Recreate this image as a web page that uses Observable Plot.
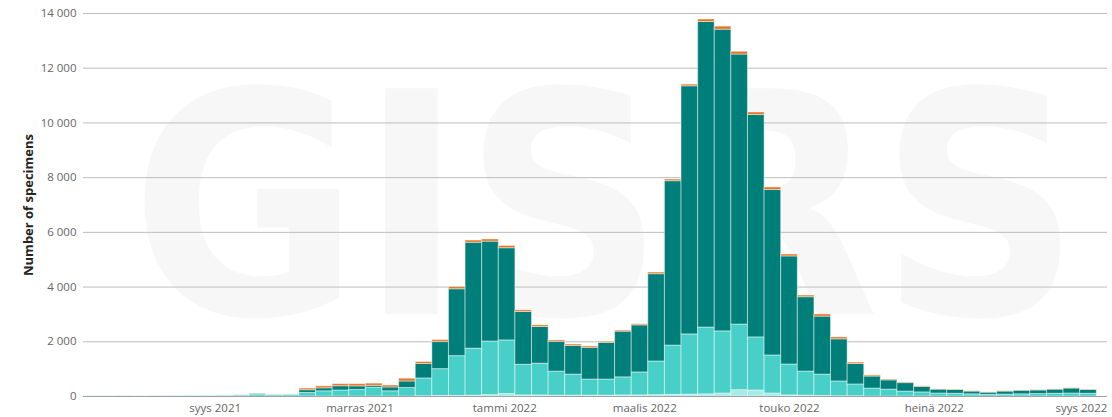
<!DOCTYPE html>
<html>
<head>
<meta charset="utf-8">
<script src="https://cdn.jsdelivr.net/npm/d3@7"></script>
<script src="https://cdn.jsdelivr.net/npm/@observablehq/plot@0.6"></script>
<style>
  html, body { margin: 0; padding: 0; background: #ffffff; }
  #chart svg { display: block; }
</style>
</head>
<body>
<div id="chart"></div>
<script>
// Week-ending dates (Sundays), one bar per week
const weekEnding = [
  "2021-07-11","2021-07-18","2021-07-25","2021-08-01","2021-08-08","2021-08-15","2021-08-22","2021-08-29",
  "2021-09-05","2021-09-12","2021-09-19","2021-09-26","2021-10-03","2021-10-10","2021-10-17","2021-10-24",
  "2021-10-31","2021-11-07","2021-11-14","2021-11-21","2021-11-28","2021-12-05","2021-12-12","2021-12-19",
  "2021-12-26","2022-01-02","2022-01-09","2022-01-16","2022-01-23","2022-01-30","2022-02-06","2022-02-13",
  "2022-02-20","2022-02-27","2022-03-06","2022-03-13","2022-03-20","2022-03-27","2022-04-03","2022-04-10",
  "2022-04-17","2022-04-24","2022-05-01","2022-05-08","2022-05-15","2022-05-22","2022-05-29","2022-06-05",
  "2022-06-12","2022-06-19","2022-06-26","2022-07-03","2022-07-10","2022-07-17","2022-07-24","2022-07-31",
  "2022-08-07","2022-08-14","2022-08-21","2022-08-28","2022-09-04"
];

// Series (bottom to top of each stack)
const seriesNames = ["Series 1", "Series 2", "Series 3", "Series 4"];
const seriesColors = ["#a6ebe6", "#48cfc8", "#007f7a", "#e5731f"];

const series1 = [0,0,0,0,0,0,0,0, 0,0,0,0,0,0,0,0, 0,0,0,0,10,20,20,30,
  50,90,40,40,30,30,30,30, 40,40,50,60,70,80,110,230, 220,110,40,30,20,10,10,0,
  0,0,0,0,0,0,0,0, 0,0,0,0,0];
const series2 = [5,5,10,5,10,10,15,15, 20,40,70,45,50,130,190,220, 240,320,190,310,650,980,1455,1720,
  1960,1960,1120,1160,880,770,590,590, 660,840,1230,1800,2200,2440,2270,2400, 1940,1390,1130,880,780,540,430,290,
  250,180,150,110,100,80,60,70, 80,90,100,110,100];
const series3 = [0,0,0,0,0,0,0,0, 0,5,20,10,10,100,110,155, 130,70,140,240,530,990,2445,3870,
  3650,3370,1930,1340,1090,1050,1160,1340, 1670,1720,3190,6010,9070,11170,11030,9870, 8130,6050,3950,2720,2120,1540,750,440,
  340,310,200,140,140,100,80,110, 130,130,150,180,140];
const series4 = [0,0,0,0,0,0,0,0, 0,0,0,0,0,60,70,75, 80,80,70,100,70,70,80,80,
  80,80,60,60,50,50,50,40, 40,40,60,60,60,90,110,100, 90,90,70,60,80,70,50,40,
  30,20,20,10,10,10,10,10, 10,10,10,10,10];

const yTicks = [0, 2000, 4000, 6000, 8000, 10000, 12000, 14000];
const xTickDates = ["2021-09-01","2021-11-01","2022-01-01","2022-03-01","2022-05-01","2022-07-01","2022-09-01"];
const xTickLabels = ["syys 2021","marras 2021","tammi 2022","maalis 2022","touko 2022","heinä 2022","syys 2022"];

// Build table for the library
const allSeries = [series1, series2, series3, series4];
const rows = [];
weekEnding.forEach((w, i) => {
  const d = new Date(w + "T00:00:00Z");
  const x1 = d3.utcHour.offset(d, -84);
  const x2 = d3.utcHour.offset(d, 84);
  allSeries.forEach((arr, k) => {
    if (arr[i] > 0) rows.push({x1, x2, series: seriesNames[k], value: arr[i]});
  });
});

const tickDates = xTickDates.map(s => new Date(s + "T00:00:00Z"));
const labelMap = new Map(tickDates.map((d, i) => [+d, xTickLabels[i]]));
const fmt = d3.formatLocale({decimal: ",", thousands: "\u00a0", grouping: [3], currency: ["", ""]}).format(",d");

const chart = Plot.plot({
  width: 1112,
  height: 417,
  marginLeft: 83,
  marginRight: 5,
  marginTop: 13,
  marginBottom: 21,
  style: {fontFamily: "'Segoe UI', 'Open Sans', sans-serif", fontSize: "11.5px", color: "#666666", background: "#ffffff", overflow: "visible"},
  x: {
    type: "utc",
    domain: [new Date("2021-07-07T12:00:00Z"), new Date("2022-09-12T00:00:00Z")],
    ticks: tickDates,
    tickFormat: d => labelMap.get(+d),
    tickSize: 0,
    tickPadding: 7,
    label: null
  },
  y: {
    domain: [0, 14000],
    ticks: yTicks,
    tickFormat: fmt,
    tickSize: 0,
    tickPadding: 7,
    label: null
  },
  color: {domain: seriesNames, range: seriesColors},
  marks: [
    Plot.text(["GISRS"], {frameAnchor: "middle", dx: 10, dy: 10, fontSize: 310, fontWeight: "bold", fontFamily: "'Liberation Sans Narrow', 'DejaVu Sans Condensed', sans-serif", fill: "#f7f7f7", className: "watermark"}),
    Plot.ruleY(yTicks.slice(1), {stroke: "#bdbdbd", strokeWidth: 1}),
    Plot.rectY(rows, Plot.stackY({x1: "x1", x2: "x2", y: "value", fill: "series", stroke: "#ffffff", strokeOpacity: 0.45, strokeWidth: 1})),
    Plot.ruleY([0], {stroke: "#a0a0a0", strokeWidth: 1.2}),
    Plot.text(["Number of specimens"], {frameAnchor: "left", dx: -55, rotate: -90, textAnchor: "middle", fontSize: 13, fontWeight: "bold", fill: "#252423", fontFamily: "'Segoe UI', 'Open Sans', sans-serif"})
  ]
});

d3.select(chart).selectAll(".watermark text").attr("textLength", 950).attr("lengthAdjust", "spacingAndGlyphs");
document.getElementById("chart").appendChild(chart);
</script>
</body>
</html>
